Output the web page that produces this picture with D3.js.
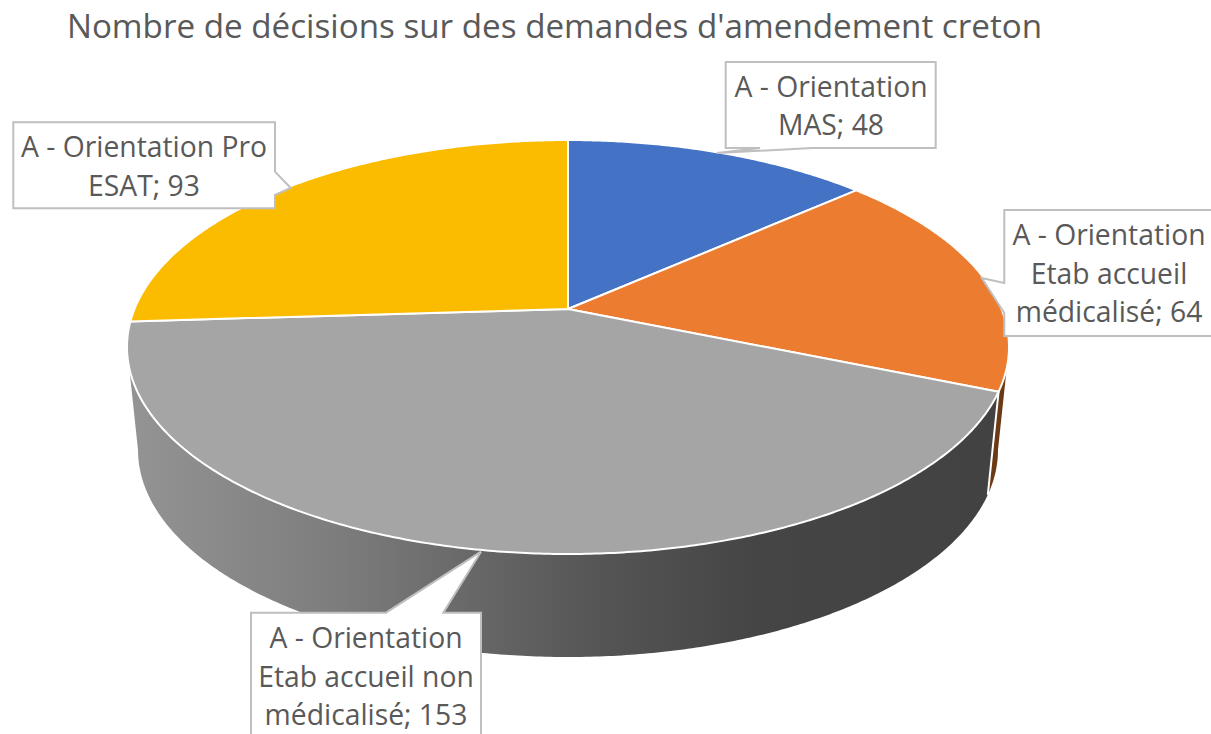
<!DOCTYPE html>
<html><head><meta charset="utf-8">
<script src="https://cdn.jsdelivr.net/npm/d3@7"></script>
<style>html,body{margin:0;padding:0;background:#fff;overflow:hidden}svg{display:block}text{font-family:"Open Sans",sans-serif;fill:#595959}</style>
</head><body><svg id="c" width="1211" height="734"></svg>
<script>
const titleText = "Nombre de décisions sur des demandes d'amendement creton";
const categories = ["A - Orientation MAS","A - Orientation Etab accueil médicalisé","A - Orientation Etab accueil non médicalisé","A - Orientation Pro ESAT"];
const values = [48,64,153,93];
const topColors = ["#4472C4","#EC7C30","#A5A5A5","#FBBC00"];
const labelLines = [["A - Orientation","MAS; 48"],["A - Orientation","Etab accueil","médicalisé; 64"],["A - Orientation","Etab accueil non","médicalisé; 153"],["A - Orientation Pro","ESAT; 93"]];
const labelBoxes = [
 {x0:725.7,x1:935.7,y0:62,y1:148,tip:[717,153],base:[[812,148],[760,148]],side:"bottom",cx:831,first:96.5},
 {x0:1004.3,x1:1214,y0:210,y1:336,tip:[981.7,278],base:[[1004.3,283],[1004.3,313]],side:"left",cx:1109,first:245},
 {x0:251,x1:481,y0:612.7,y1:760,tip:[481,551.7],base:[[386,612.7],[443.3,612.7]],side:"top",cx:366,first:648},
 {x0:13.3,x1:275,y0:122.3,y1:208.3,tip:[290.7,188],base:[[275,171.7],[275,195]],side:"right",cx:144,first:157}
];
const svg = d3.select("#c");
const cx=568, k=0.1837, A=433.5, B=200, y0Top=309, y0Bot=412, botScale=0.975;
const project=(a,isTop)=>{const u=Math.sin(a),v=-Math.cos(a),w=1-k*v;
  return isTop?[cx+A*u/w,y0Top+B*v/w]:[cx+A*botScale*u/w,y0Bot+B*v/w];};
const arcs=d3.pie().sort(null).value(d=>d)(values);
const rad=d=>d*Math.PI/180;
const silR=Math.PI-Math.acos(k), silL=Math.PI+Math.acos(k); // silhouette angles of the projected disc
const color=d3.scaleOrdinal().domain(categories).range(topColors);
const samples=(a,b)=>{const n=Math.max(2,Math.ceil(Math.abs(b-a)/rad(0.5)));return d3.range(n+1).map(i=>a+(b-a)*i/n);};
const line=d3.line();

const defs=svg.append("defs");
const gray=defs.append("linearGradient").attr("id","sideGray").attr("gradientUnits","userSpaceOnUse").attr("x1",127).attr("x2",1000).attr("y1",0).attr("y2",0);
[[0,"#949494"],[0.24,"#7d7d7d"],[0.40,"#676767"],[0.55,"#545454"],[0.72,"#454545"],[1,"#424242"]].forEach(s=>gray.append("stop").attr("offset",s[0]).attr("stop-color",s[1]));

// sides (only the front-facing part of the rim)
const sideFill=[null,"#6B3A14","url(#sideGray)",null];
arcs.forEach((d,i)=>{
  const a=Math.max(d.startAngle,silR), b=Math.min(d.endAngle,silL);
  if(a>=b) return;
  const pts=samples(a,b).map(t=>project(t,true)).concat(samples(b,a).map(t=>project(t,false)));
  svg.append("path").attr("d",line(pts)+"Z").attr("fill",sideFill[i]||color(categories[i]));
});
// divider between the grey and orange sides
const divA=arcs[1].endAngle;
svg.append("path").attr("d",line([project(divA,true),project(divA,false)])).attr("stroke","#fff").attr("stroke-width",2).attr("fill","none");

// top faces
const faces=svg.append("g");
arcs.forEach((d,i)=>{
  const pts=[[cx,y0Top]].concat(samples(d.startAngle,d.endAngle).map(t=>project(t,true)));
  faces.append("path").attr("d",line(pts)+"Z").attr("fill",color(categories[i])).attr("stroke","#fff").attr("stroke-width",2).attr("stroke-linejoin","round");
});

svg.append("text").attr("x",554.5).attr("y",38).attr("text-anchor","middle").attr("font-size",33.2).text(titleText);

// callouts
labelBoxes.forEach((b,i)=>{
  let p;
  const {x0,x1,y0,y1,tip,base}=b;
  if(b.side==="bottom") p=[[x0,y0],[x1,y0],[x1,y1],base[0],tip,base[1],[x0,y1]];
  if(b.side==="left")   p=[[x0,y0],[x1,y0],[x1,y1],[x0,y1],base[1],tip,base[0]];
  if(b.side==="top")    p=[[x0,y1],[x0,y0],base[0],tip,base[1],[x1,y0],[x1,y1]];
  if(b.side==="right")  p=[[x0,y0],[x1,y0],base[0],tip,base[1],[x1,y1],[x0,y1]];
  svg.append("path").attr("d",line(p)+"Z").attr("fill","#fff").attr("stroke","#BFBFBF").attr("stroke-width",2);
  labelLines[i].forEach((t,j)=>svg.append("text").attr("x",b.cx).attr("y",b.first+j*38.5).attr("text-anchor","middle").attr("font-size",28.3).text(t));
});
</script></body></html>
